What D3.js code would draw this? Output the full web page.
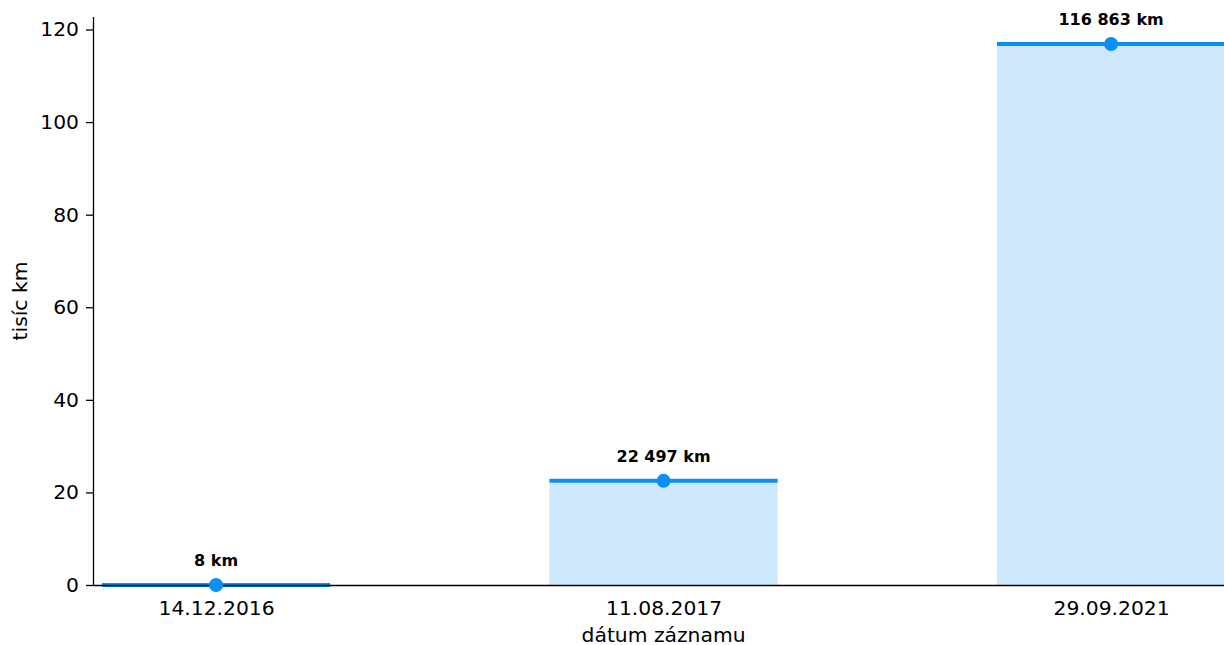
<!DOCTYPE html>
<html><head><meta charset="utf-8">
<script src="https://cdn.jsdelivr.net/npm/d3@7/dist/d3.min.js"></script>
<style>body{margin:0;background:#fff}svg{display:block;font-family:"DejaVu Sans",sans-serif}</style>
</head><body>
<svg id="c" width="1224" height="645"></svg>
<script>
const categories = ["14.12.2016", "11.08.2017", "29.09.2021"];
const values = [0.008, 22.497, 116.863];
const labels = ["8 km", "22 497 km", "116 863 km"];
const yTicks = [0, 20, 40, 60, 80, 100, 120];

const W = 1224, H = 645;
const mLeft = 93, mTop = 17, mBottom = 585;
const lineColor = "#0a8ff5", fillColor = "#cde8fc";
const svg = d3.select("#c");

const x = d3.scaleLinear().domain([-0.275, 2.275]).range([mLeft, mLeft + 2.55 * 447.5]);
const y = d3.scaleLinear().domain([0, 122.7]).range([mBottom, mTop]);
const bw = 0.51;

svg.append("g").selectAll("rect").data(values).join("rect")
  .attr("x", (d, i) => x(i - bw / 2)).attr("width", x(bw) - x(0))
  .attr("y", d => y(d)).attr("height", d => y(0) - y(d))
  .attr("fill", fillColor);

svg.append("g").selectAll("line").data(values).join("line")
  .attr("x1", (d, i) => x(i - bw / 2)).attr("x2", (d, i) => x(i + bw / 2))
  .attr("y1", d => y(d)).attr("y2", d => y(d))
  .attr("stroke", lineColor).attr("stroke-width", 4);

const gx = svg.append("g").attr("transform", `translate(0,${mBottom})`)
  .call(d3.axisBottom(x).tickValues([0, 1, 2]).tickFormat(i => categories[i]).tickSize(0).tickPadding(16));
gx.select(".domain").attr("d", `M${mLeft},0.5H${W}`).attr("stroke", "#000").attr("stroke-width", 1.3);
gx.selectAll("text").attr("font-size", 20.3).attr("fill", "#000").attr("font-family", "DejaVu Sans");

const gy = svg.append("g").attr("transform", `translate(${mLeft},0)`)
  .call(d3.axisLeft(y).tickValues(yTicks).tickSize(7).tickPadding(7));
gy.select(".domain").attr("d", `M0.5,${mTop}V${mBottom}`).attr("stroke", "#000").attr("stroke-width", 1.3);
gy.selectAll(".tick line").attr("stroke", "#000").attr("stroke-width", 1.3);
gy.selectAll("text").attr("font-size", 20.3).attr("fill", "#000").attr("font-family", "DejaVu Sans");

svg.append("g").selectAll("circle").data(values).join("circle")
  .attr("cx", (d, i) => x(i)).attr("cy", d => y(d)).attr("r", 7)
  .attr("fill", lineColor);

svg.append("g").selectAll("text").data(values).join("text")
  .attr("x", (d, i) => x(i)).attr("y", d => y(d) - 19)
  .attr("text-anchor", "middle").attr("font-size", 16).attr("font-weight", "bold")
  .text((d, i) => labels[i]);

svg.append("text").attr("x", x(1)).attr("y", 641.5).attr("text-anchor", "middle")
  .attr("font-size", 20.3).text("dátum záznamu");
svg.append("text").attr("transform", `translate(27,${(mTop + mBottom) / 2}) rotate(-90)`)
  .attr("text-anchor", "middle").attr("font-size", 20.3).text("tisíc km");
</script>
</body></html>
